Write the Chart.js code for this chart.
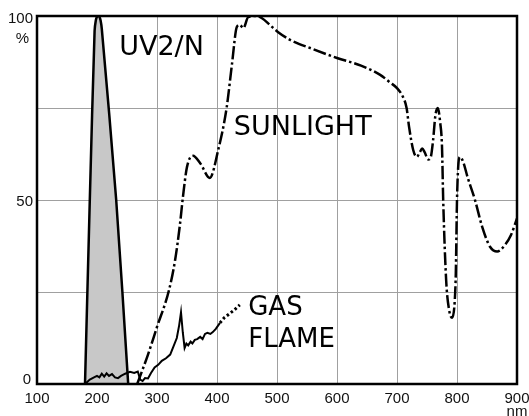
<!DOCTYPE html>
<html>
<head>
<meta charset="utf-8">
<script src="https://cdn.jsdelivr.net/npm/chart.js@4.4.1/dist/chart.umd.min.js"></script>
<style>
  html, body { margin: 0; padding: 0; background: #fff; }
  #wrap { width: 529px; height: 416px; position: relative; }
</style>
</head>
<body>
<div id="wrap"><canvas id="spectrum"></canvas></div>
<script>
// wavelength (nm) / relative intensity (%)
var xTicks = [100, 200, 300, 400, 500, 600, 700, 800, 900];
var yTicks = [0, 50, 100];

var uvX = [180, 188, 196, 198, 200, 202, 204, 206, 208, 232, 252];
var uvY = [0, 50, 96, 98.8, 99.8, 100, 99.8, 98.8, 96.5, 50, 0];

var sunX = [267, 285, 300, 320, 330, 338, 343, 350, 360, 372, 388, 402, 416, 425, 433, 438, 444, 452, 466, 475, 488, 502, 522, 560, 600, 640, 672, 688, 700, 710, 716, 720, 727, 733, 738, 742, 746, 752, 756, 760, 764, 768, 772, 775, 777, 782, 787, 792, 796, 798, 800, 802, 805, 810, 818, 830, 842, 855, 867, 880, 890, 900];
var sunY = [0, 8, 15.5, 25.5, 33.5, 43, 50.5, 59, 62, 60, 56, 63.6, 75, 87, 97, 97.6, 96.7, 99.7, 100, 99.4, 97.6, 95.6, 93.5, 91, 88.6, 86.5, 84, 82, 80.4, 78, 75, 70, 63.6, 61.7, 63, 64, 63, 61, 61.5, 66, 73, 75, 71, 64.5, 50, 28, 20, 18, 22, 30, 50, 59, 61.7, 60.5, 56, 50, 42.7, 37.3, 36, 37.8, 40.5, 45];

var gasX = [180, 188, 195, 200, 204, 208, 212, 216, 220, 225, 230, 235, 240, 247, 255, 262, 268, 272, 276, 280, 285, 290, 296, 302, 308, 315, 322, 327, 333, 337, 340, 343, 346, 349, 352, 356, 359, 363, 367, 372, 376, 380, 384, 389, 393, 398, 405, 412, 420, 428, 438];
var gasY = [0, 1.2, 1.8, 2.2, 1.8, 2.8, 2.0, 2.9, 2.2, 2.7, 1.8, 1.6, 2.2, 2.8, 3.3, 3.0, 3.4, 1.2, 0.8, 1.6, 1.5, 3.0, 4.5, 5.2, 6.3, 7.0, 8.0, 10.0, 12.5, 16, 19.5, 14, 9.8, 11, 10.5, 11.5, 11, 12, 12.2, 12.8, 12.2, 13.6, 13.9, 13.6, 14.1, 15, 16.6, 18, 19, 20, 21.5];
var gasDottedFrom = 405;

function pts(xs, ys) {
  return xs.map(function(x, i) { return { x: x, y: ys[i] }; });
}

var extras = {
  id: 'extras',
  afterDraw: function(chart) {
    var ctx = chart.ctx, a = chart.chartArea;
    var sx = chart.scales.x, sy = chart.scales.y;
    ctx.save();
    ctx.strokeStyle = '#000';
    ctx.lineWidth = 2.5;
    ctx.strokeRect(a.left, a.top, a.right - a.left, a.bottom - a.top);

    ctx.fillStyle = '#111';
    ctx.font = '15px "Liberation Sans", Arial, sans-serif';
    ctx.textBaseline = 'alphabetic';
    ctx.textAlign = 'center';
    xTicks.forEach(function(v) {
      ctx.fillText(String(v), sx.getPixelForValue(v), a.bottom + 19);
    });
    ctx.fillText('nm', sx.getPixelForValue(900), a.bottom + 32);

    ctx.textAlign = 'right';
    ctx.fillText('100', a.left - 4, sy.getPixelForValue(100) + 7);
    ctx.fillText('%', a.left - 8, sy.getPixelForValue(100) + 27);
    ctx.fillText('50', a.left - 4, sy.getPixelForValue(50) + 6);
    ctx.fillText('0', a.left - 6, sy.getPixelForValue(0));

    ctx.textAlign = 'left';
    ctx.fillStyle = '#000';
    ctx.font = '27px "DejaVu Sans", Verdana, sans-serif';
    ctx.fillText('UV2/N', sx.getPixelForValue(237), sy.getPixelForValue(89.4));
    ctx.fillText('SUNLIGHT', sx.getPixelForValue(428), sy.getPixelForValue(67.7));
    ctx.font = '26px "DejaVu Sans", Verdana, sans-serif';
    ctx.fillText('GAS', sx.getPixelForValue(452), sy.getPixelForValue(18.8));
    ctx.fillText('FLAME', sx.getPixelForValue(452), sy.getPixelForValue(10.1));
    ctx.restore();
  }
};

new Chart(document.getElementById('spectrum'), {
  type: 'line',
  data: {
    datasets: [
      {
        label: 'UV2/N',
        data: pts(uvX, uvY),
        order: 3,
        borderColor: '#000',
        borderWidth: 2.5,
        backgroundColor: '#c8c8c8',
        fill: 'origin',
        tension: 0.3,
        pointRadius: 0
      },
      {
        label: 'GAS FLAME',
        data: pts(gasX, gasY),
        order: 1,
        borderColor: '#000',
        borderWidth: 2,
        fill: false,
        tension: 0,
        pointRadius: 0,
        segment: {
          borderDash: function(c) { return c.p0.parsed.x >= gasDottedFrom ? [2.5, 2.5] : undefined; },
          borderWidth: function(c) { return c.p0.parsed.x >= gasDottedFrom ? 3 : undefined; }
        }
      },
      {
        label: 'SUNLIGHT',
        data: pts(sunX, sunY),
        order: 2,
        borderColor: '#000',
        borderWidth: 2.5,
        borderDash: [13, 3, 2.5, 3],
        fill: false,
        cubicInterpolationMode: 'monotone',
        pointRadius: 0
      }
    ]
  },
  options: {
    responsive: true,
    maintainAspectRatio: false,
    animation: false,
    layout: { padding: { left: 37, top: 16, right: 12, bottom: 32 } },
    plugins: { legend: { display: false }, tooltip: { enabled: false } },
    scales: {
      x: {
        type: 'linear', min: 100, max: 900,
        ticks: { stepSize: 100, display: false },
        grid: { color: '#a0a0a0', lineWidth: 1, drawTicks: false },
        border: { display: false }
      },
      y: {
        min: 0, max: 100,
        ticks: { stepSize: 25, display: false },
        grid: { color: '#a0a0a0', lineWidth: 1, drawTicks: false },
        border: { display: false }
      }
    }
  },
  plugins: [extras]
});
</script>
</body>
</html>
